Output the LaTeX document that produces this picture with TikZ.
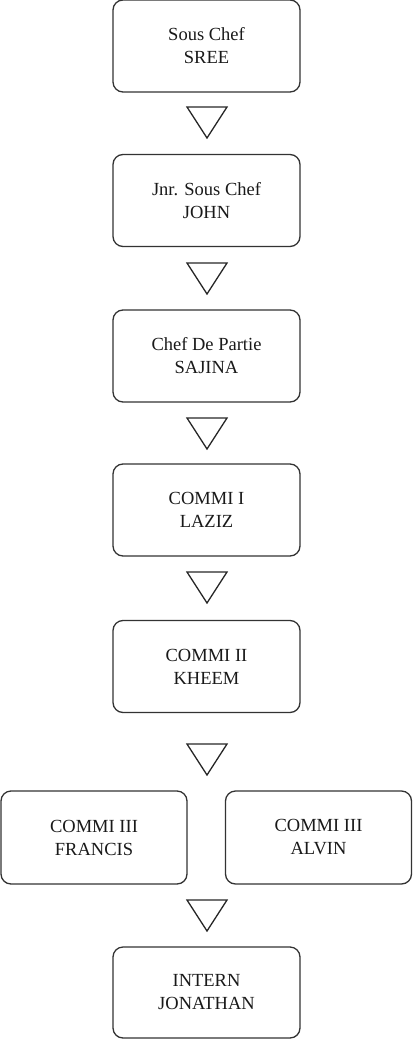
\documentclass[tikz,border=0pt]{standalone}
\usepackage{fontspec}
\setmainfont{Liberation Serif}
\begin{document}
\begin{tikzpicture}[x=1pt,y=1pt,
  rolebox/.style={draw=black!80, line width=1.3pt, rounded corners=10pt,
    minimum width=187pt, minimum height=92pt, align=center, inner sep=0pt,
    font=\fontsize{18.5}{23}\selectfont, text=black!90},
  downmark/.pic={\draw[black!85, line width=1.3pt, line join=miter]
    (-20,0) -- (20,0) -- (0,-31) -- cycle;}]
\useasboundingbox (0,0) rectangle (412,-1040);

% kitchen brigade, top to bottom
\node[rolebox] (sous)   at (206.5,-46)    {Sous Chef\\SREE};
\node[rolebox] (jnr)    at (206.5,-200.5) {Jnr. Sous Chef\\JOHN};
\node[rolebox] (cdp)    at (206.5,-356)   {Chef De Partie\\SAJINA};
\node[rolebox] (commi1) at (206.5,-510)   {COMMI I\\LAZIZ};
\node[rolebox] (commi2) at (206.5,-666.5) {COMMI II\\KHEEM};
\node[rolebox, minimum width=186pt, minimum height=93pt] (francis) at (94,-837.5)   {COMMI III\\FRANCIS};
\node[rolebox, minimum width=186pt, minimum height=93pt] (alvin)   at (318.5,-837.5) {COMMI III\\ALVIN};
\node[rolebox, minimum height=91pt] (intern) at (206.5,-992.5) {INTERN\\JONATHAN};

% down markers between levels
\pic at (207,-107) {downmark};
\pic at (207,-263) {downmark};
\pic at (207,-418) {downmark};
\pic at (207,-572) {downmark};
\pic at (207,-744) {downmark};
\pic at (207,-900) {downmark};
\end{tikzpicture}
\end{document}
